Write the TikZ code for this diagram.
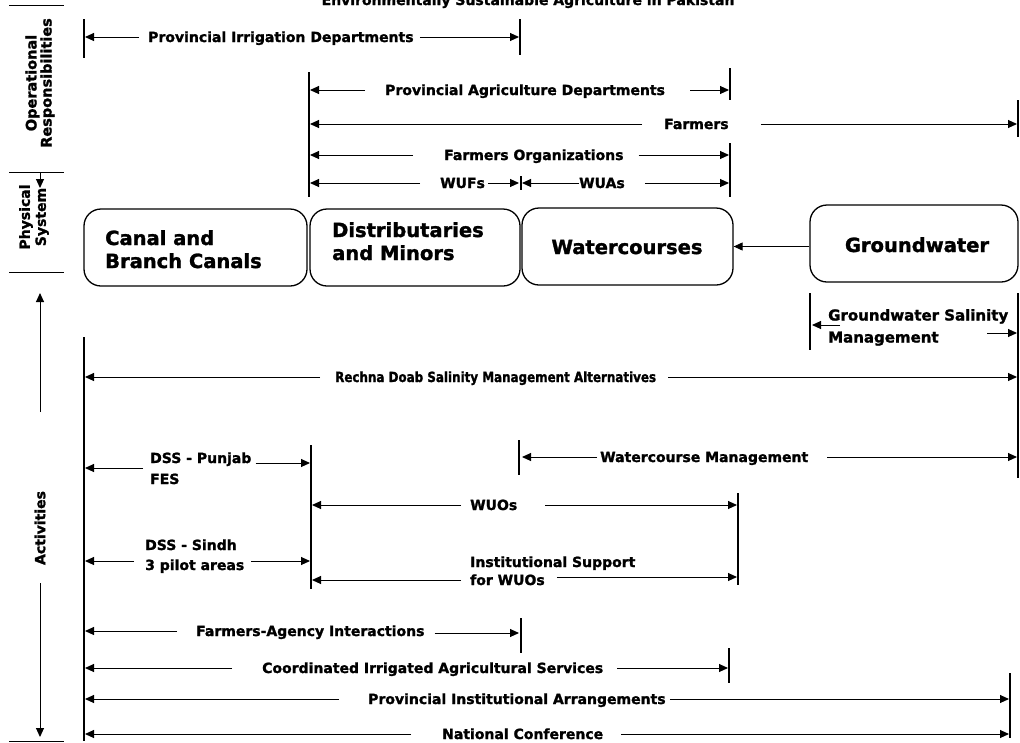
\documentclass[tikz,border=0pt]{standalone}
\usepackage{fontspec}
\setmainfont{DejaVu Sans}[BoldFeatures={FakeBold=1.5}]
\usetikzlibrary{arrows.meta}
\newcommand{\fs}[2][]{\fontsize{#2}{#2}\selectfont\bfseries}
\tikzset{
  lblw/.style={inner sep=0pt, font=\fs{14}, anchor=west, text height=10pt, text depth=0pt},
  boxtxt/.style={inner sep=0pt, font=\fs{19.5}, anchor=west, text height=14pt, text depth=0pt},
  arr/.style={-{Triangle[length=9pt,width=8pt]}, line width=1pt},
  bar/.style={line width=1.3pt},
  sep/.style={line width=1pt},
  box/.style={draw, line width=1.3pt, rounded corners=17pt, inner sep=0pt}
}
\begin{document}
\begin{tikzpicture}[x=1pt,y=-1pt]
\useasboundingbox (0,0) rectangle (1020,742);
% ---------- title (cut by the page top, as in the source)
\node[inner sep=0pt, font=\fs{14}, anchor=base] (title) at (528,5) {Environmentally Sustainable Agriculture in Pakistan};
% ---------- left column
\coordinate (s0a) at (9,5);   \coordinate (s0b) at (64,5);
\coordinate (s1a) at (9,172); \coordinate (s1b) at (64,172);
\coordinate (s2a) at (9,272); \coordinate (s2b) at (64,272);
\coordinate (s3a) at (9,741); \coordinate (s3b) at (64,741);
\draw[sep] (s0a) -- (s0b);
\draw[sep] (s1a) -- (s1b);
\draw[sep] (s2a) -- (s2b);
\draw[sep] (s3a) -- (s3b);
\node[rotate=90, align=center, inner sep=0pt, font=\fontsize{14.5}{13}\selectfont\bfseries] (oper) at (40,83) {Operational\\Responsibilities};
\node[rotate=90, align=center, inner sep=0pt, font=\fontsize{14}{16}\selectfont\bfseries] (phys) at (34,217) {Physical\\System};
\node[rotate=90, inner sep=0pt, font=\fs{14}] (act) at (40,528) {Activities};
\coordinate (pa1) at (40,172); \coordinate (pa2) at (40,188);
\draw[arr] (pa1) -- (pa2);
\coordinate (aa1) at (40,412); \coordinate (aa2) at (40,293);
\draw[arr] (aa1) -- (aa2);
\coordinate (ab1) at (40,583); \coordinate (ab2) at (40,737);
\draw[arr] (ab1) -- (ab2);
% ---------- vertical bars
\draw[bar] (84,19) -- (84,58);
\draw[bar] (520,19) -- (520,55);
\draw[bar] (309,72) -- (309,197);
\draw[bar] (730,68) -- (730,100);
\draw[bar] (1018,100) -- (1018,137);
\draw[bar] (730,143) -- (730,197);
\draw[bar] (521,176) -- (521,190);
\draw[bar] (810,293) -- (810,350);
\draw[bar] (1018,293) -- (1018,478);
\draw[bar] (84,337) -- (84,741);
\draw[bar] (519,440) -- (519,475);
\draw[bar] (311,445) -- (311,589);
\draw[bar] (738,493) -- (738,585);
\draw[bar] (521,618) -- (521,653);
\draw[bar] (729,648) -- (729,683);
\draw[bar] (1010,673) -- (1010,738);
\coordinate (xA) at (85,0);
\coordinate (xB) at (310,0);
\coordinate (xC) at (519,0);
\coordinate (xC2) at (522,0);
\coordinate (xD) at (729,0);
\coordinate (xE) at (1017,0);
\coordinate (xF) at (812,0);
\coordinate (xG) at (312,0);
\coordinate (xH) at (737,0);
\coordinate (xI) at (1009,0);
\coordinate (xJ) at (728,0);
% ---------- operational responsibilities
\node[lblw] (pid) at (148,37) {Provincial Irrigation Departments};
\draw[arr] ([xshift=-9pt]pid.west) -- (pid.west -| xA);
\draw[arr] ([xshift=6pt]pid.east) -- (pid.east -| xC);

\node[lblw] (pad) at (385,90) {Provincial Agriculture Departments};
\draw[arr] ([xshift=-20pt]pad.west) -- (pad.west -| xB);
\draw[arr] ([xshift=25pt]pad.east) -- (pad.east -| xD);

\node[lblw] (far) at (664,124) {Farmers};
\draw[arr] ([xshift=-22pt]far.west) -- (far.west -| xB);
\draw[arr] ([xshift=32pt]far.east) -- (far.east -| xE);

\node[lblw] (fo) at (444,155) {Farmers Organizations};
\draw[arr] ([xshift=-31pt]fo.west) -- (fo.west -| xB);
\draw[arr] ([xshift=15pt]fo.east) -- (fo.east -| xD);

\node[lblw] (wuf) at (440,183) {WUFs};
\draw[arr] ([xshift=-20pt]wuf.west) -- (wuf.west -| xB);
\draw[arr] ([xshift=3pt]wuf.east) -- (wuf.east -| xC);
\node[lblw] (wua) at (579,183) {WUAs};
\draw[arr] (wua.west) -- (wua.west -| xC2);
\draw[arr] ([xshift=20pt]wua.east) -- (wua.east -| xD);
% ---------- physical system
\node[box, minimum width=223pt, minimum height=77pt] (canal) at (195.5,247.5) {};
\node[box, minimum width=210pt, minimum height=77pt] (dist) at (415,247.5) {};
\node[box, minimum width=211pt, minimum height=77pt] (wc) at (627.5,246.5) {};
\node[box, minimum width=208pt, minimum height=77pt] (gw) at (914,243.5) {};
\node[boxtxt] (canal1) at (105,238) {Canal and};
\node[boxtxt] (canal2) at (105,261) {Branch Canals};
\node[boxtxt] (dist1) at (332,230) {Distributaries};
\node[boxtxt] (dist2) at (332,253) {and Minors};
\node[boxtxt, anchor=center] (wct) at (627,247) {Watercourses};
\node[boxtxt, anchor=center] (gwt) at (917,245) {Groundwater};
\draw[arr] (gw.west |- wc.east) -- (wc.east);
% ---------- activities
\node[lblw, font=\fs{15}, text height=11pt] (gsm1) at (828,315) {Groundwater Salinity};
\node[lblw, font=\fs{15}, text height=11pt] (gsm2) at (828,337) {Management};
\coordinate (gsmL) at (840,325);
\draw[arr] (gsmL) -- (gsmL -| xF);
\coordinate (gsmR) at (987,333);
\draw[arr] (gsmR) -- (gsmR -| xE);

\node[lblw] (rd) at (335,377) {\scalebox{0.85}[1]{Rechna Doab Salinity Management Alternatives}};
\draw[arr] ([xshift=-15pt]rd.west) -- (rd.west -| xA);
\draw[arr] ([xshift=12pt]rd.east) -- (rd.east -| xE);

\node[lblw] (dp1) at (150,458) {DSS - Punjab};
\node[lblw] (dp2) at (150,479) {FES};
\coordinate (dpL) at (143,468);
\draw[arr] (dpL) -- (dpL -| xA);
\draw[arr] ([xshift=4pt,yshift=-5pt]dp1.east) -- ([yshift=-5pt]dp1.east -| xB);

\node[lblw] (wcm) at (600,457) {Watercourse Management};
\draw[arr] ([xshift=-3pt]wcm.west) -- (wcm.west -| xC2);
\draw[arr] ([xshift=19pt]wcm.east) -- (wcm.east -| xE);

\node[lblw] (wuo) at (470,505) {WUOs};
\draw[arr] ([xshift=-9pt]wuo.west) -- (wuo.west -| xG);
\draw[arr] ([xshift=28pt]wuo.east) -- (wuo.east -| xH);

\node[lblw] (ds1) at (145,545) {DSS - Sindh};
\node[lblw] (ds2) at (145,565) {3 pilot areas};
\coordinate (dsL) at (134,561);
\draw[arr] (dsL) -- (dsL -| xA);
\draw[arr] ([xshift=7pt,yshift=4pt]ds2.east) -- ([yshift=4pt]ds2.east -| xB);

\node[lblw] (is1) at (470,562) {Institutional Support};
\node[lblw] (is2) at (470,580) {for WUOs};
\coordinate (isL) at (461,580);
\draw[arr] (isL) -- (isL -| xG);
\draw[arr] ([xshift=12pt,yshift=3pt]is2.east) -- ([yshift=3pt]is2.east -| xH);

\node[lblw] (fa) at (196,631) {Farmers-Agency Interactions};
\draw[arr] ([xshift=-19pt]fa.west) -- (fa.west -| xA);
\draw[arr] ([xshift=10pt,yshift=-2pt]fa.east) -- ([yshift=-2pt]fa.east -| xC);

\node[lblw] (cia) at (262,668) {Coordinated Irrigated Agricultural Services};
\draw[arr] ([xshift=-30pt]cia.west) -- (cia.west -| xA);
\draw[arr] ([xshift=14pt]cia.east) -- (cia.east -| xJ);

\node[lblw] (pia) at (368,699) {Provincial Institutional Arrangements};
\draw[arr] ([xshift=-29pt]pia.west) -- (pia.west -| xA);
\draw[arr] ([xshift=4pt]pia.east) -- (pia.east -| xI);

\node[lblw] (nc) at (442,734) {National Conference};
\draw[arr] ([xshift=-31pt]nc.west) -- (nc.west -| xA);
\draw[arr] ([xshift=18pt]nc.east) -- (nc.east -| xI);
\end{tikzpicture}
\end{document}
